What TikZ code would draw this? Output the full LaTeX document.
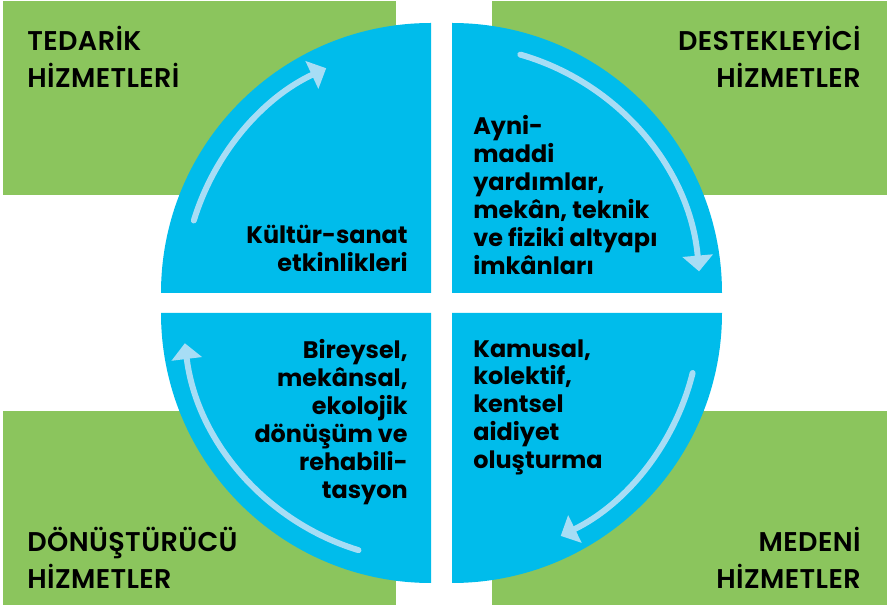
\documentclass[tikz,border=0pt]{standalone}
\usepackage{fontspec}
\setmainfont{Poppins}
\newfontfamily\headfont[LetterSpace=1.5]{Poppins SemiBold}
\usetikzlibrary{arrows.meta}

\begin{document}
\begin{tikzpicture}[line cap=round,line join=round,x=0.02cm,y=0.02cm,
  >={Triangle[length=9pt,width=17pt]},
  baslik/.style={inner sep=0pt,font=\headfont\fontsize{15.4}{21}\selectfont},
  metin/.style={inner sep=0pt,font=\bfseries\fontsize{13.6}{15.9}\selectfont}]
\definecolor{qqbceb}{rgb}{0.,0.737,0.922}
\definecolor{ybcvvd}{rgb}{0.545,0.773,0.365}
\definecolor{axddfv}{rgb}{0.655,0.867,0.961}
\useasboundingbox (0,0) rectangle (887,609);
\fill[color=ybcvvd] (3,414) rectangle (396,608);
\fill[color=ybcvvd] (492,414) rectangle (887,608);
\fill[color=ybcvvd] (3,4) rectangle (396,198);
\fill[color=ybcvvd] (492,4) rectangle (887,198);
\fill[color=qqbceb] (431,316) -- (161,316) arc[start angle=180,end angle=90,radius=270] -- cycle;
\fill[color=qqbceb] (452,316) -- (452,586) arc[start angle=90,end angle=0,radius=270] -- cycle;
\fill[color=qqbceb] (452,296) -- (722,296) arc[start angle=0,end angle=-90,radius=270] -- cycle;
\fill[color=qqbceb] (431,296) -- (431,26) arc[start angle=270,end angle=180,radius=270] -- cycle;
\draw [line width=3.4pt,color=axddfv,->] (431,316) ++(163:248) arc[start angle=163,end angle=115,radius=248];
\draw [line width=3.4pt,color=axddfv,->] (452,316) ++(74:248) arc[start angle=74,end angle=5,radius=248];
\draw [line width=3.4pt,color=axddfv,->] (452,296) ++(-14:248) arc[start angle=-14,end angle=-64,radius=248];
\draw [line width=3.4pt,color=axddfv,->] (431,296) ++(253:248) arc[start angle=253,end angle=187,radius=248];
\node[baslik,anchor=north west,align=left] (tedarik) at (27,583) {TEDARİK\\HİZMETLERİ};
\node[baslik,anchor=north east,align=right] (destek) at (861,583) {DESTEKLEYİCİ\\HİZMETLER};
\node[baslik,anchor=north west,align=left] (donustur) at (27,82) {DÖNÜŞTÜRÜCÜ\\HİZMETLER};
\node[baslik,anchor=north east,align=right] (medeni) at (861,82) {MEDENİ\\HİZMETLER};
\node[metin,anchor=north east,align=right] (kultur) at (408,384) {Kültür-sanat\\etkinlikleri};
\node[metin,anchor=north west,align=left] (ayni) at (473,494) {Ayni-\\maddi\\yardımlar,\\mekân, teknik\\ve fiziki altyapı\\imkânları};
\node[metin,anchor=north east,align=right] (bireysel) at (408,270) {Bireysel,\\mekânsal,\\ekolojik\\dönüşüm ve\\rehabili-\\tasyon};
\node[metin,anchor=north west,align=left] (kamusal) at (473,270) {Kamusal,\\kolektif,\\kentsel\\aidiyet\\oluşturma};
\end{tikzpicture}
\end{document}
